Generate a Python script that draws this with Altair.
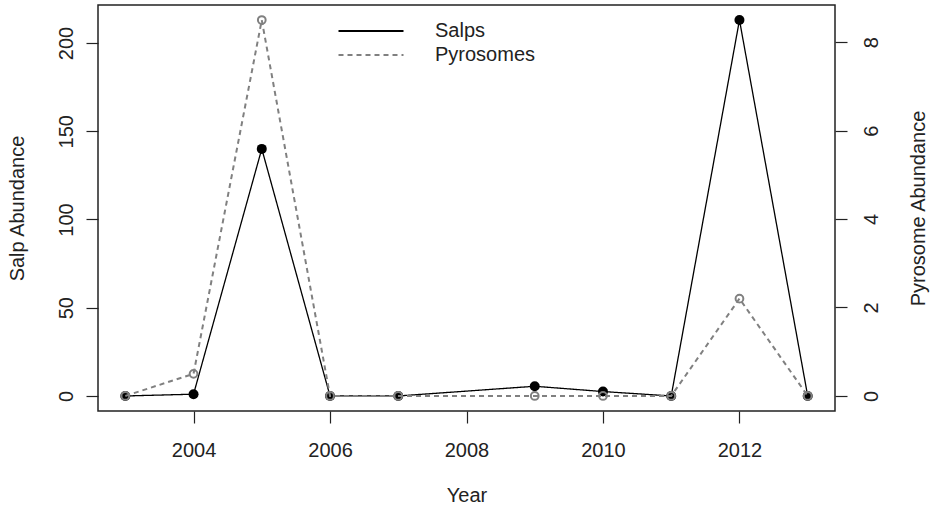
import altair as alt
import pandas as pd

# Annual abundance of salps and pyrosomes (no sampling in 2008)
years = [2003, 2004, 2005, 2006, 2007, 2009, 2010, 2011, 2012, 2013]
salps = [0, 1, 140, 0, 0, 5.5, 2.5, 0, 213, 0]
pyrosomes = [0, 0.5, 8.5, 0, 0, 0, 0, 0, 2.2, 0]

series_names = ["Salps", "Pyrosomes"]
year_ticks = [2004, 2006, 2008, 2010, 2012]
salp_ticks = [0, 50, 100, 150, 200]
pyro_ticks = [0, 2, 4, 6, 8]

df = pd.DataFrame(
    {"Year": years * 2,
     "series": ["Salps"] * len(years) + ["Pyrosomes"] * len(years),
     "value": salps + pyrosomes}
)

FONT = "Liberation Sans"
FS = 20
W, H = 737, 406

x_enc = alt.X(
    "Year:Q",
    scale=alt.Scale(domain=[2002.6, 2013.4], nice=False, zero=False),
    axis=alt.Axis(values=year_ticks, format="d", title="Year",
                  labelPadding=17, titleX=W / 2, titleY=74,
                  titleBaseline="top", titleAlign="center"),
)

color_scale = alt.Scale(domain=series_names, range=["black", "#808080"])
dash_scale = alt.Scale(domain=series_names, range=[[1, 0], [5, 4]])
legend = alt.Legend(
    title=None, orient="none", legendX=239, legendY=15,
    symbolType="stroke", symbolSize=4225, symbolStrokeWidth=2.2,
    clipHeight=22, rowPadding=2, labelOffset=30, padding=0,
    labelFontSize=FS, labelFont=FONT, labelColor="#222",
)

# Salps on the left axis
salp_y = alt.Y(
    "value:Q",
    scale=alt.Scale(domain=[-8.52, 221.52], nice=False, zero=False),
    axis=alt.Axis(values=salp_ticks, title="Salp Abundance", orient="left",
                  labelAngle=270, labelAlign="center", labelBaseline="bottom",
                  labelPadding=10, titleAngle=270, titleAlign="center",
                  titleBaseline="bottom", titleX=-71, titleY=H / 2),
)
salp_base = alt.Chart(df).transform_filter(alt.datum.series == "Salps")
salp_line = salp_base.mark_line(strokeWidth=1.3).encode(
    x=x_enc, y=salp_y,
    color=alt.Color("series:N", scale=color_scale, legend=legend),
    strokeDash=alt.StrokeDash("series:N", scale=dash_scale, legend=legend),
)
salp_pts = salp_base.mark_point(filled=True, size=100, opacity=1, color="black").encode(
    x=x_enc, y=salp_y
)
salp_layer = alt.layer(salp_line, salp_pts)

# Pyrosomes on the right axis
pyro_y = alt.Y(
    "value:Q",
    scale=alt.Scale(domain=[-0.3408, 8.8408], nice=False, zero=False),
    axis=alt.Axis(values=pyro_ticks, title="Pyrosome Abundance", orient="right",
                  labelAngle=270, labelAlign="center", labelBaseline="top",
                  labelPadding=14, titleAngle=270, titleAlign="center",
                  titleBaseline="top", titleX=73, titleY=H / 2),
)
pyro_base = alt.Chart(df).transform_filter(alt.datum.series == "Pyrosomes")
pyro_line = pyro_base.mark_line(strokeWidth=2).encode(
    x=x_enc, y=pyro_y,
    color=alt.Color("series:N", scale=color_scale, legend=legend),
    strokeDash=alt.StrokeDash("series:N", scale=dash_scale, legend=legend),
)
pyro_pts = pyro_base.mark_point(filled=False, size=60, strokeWidth=2, opacity=1,
                                color="#808080").encode(x=x_enc, y=pyro_y)
pyro_layer = alt.layer(pyro_line, pyro_pts)

chart = (
    alt.layer(salp_layer, pyro_layer)
    .resolve_scale(y="independent")
    .properties(
        width=W, height=H,
        autosize=alt.AutoSizeParams(type="none"),
        padding={"left": 98, "top": 5, "right": 96, "bottom": 99},
        background="white",
    )
    .configure_view(stroke="#222", strokeWidth=1.5)
    .configure_axis(
        domain=False, grid=False, tickSize=12, tickColor="#222", tickWidth=1.2,
        labelFont=FONT, labelFontSize=FS, labelColor="#222",
        titleFont=FONT, titleFontSize=FS, titleFontWeight="normal", titleColor="#222",
    )
)

chart.save("out.html", embed_options={"renderer": "svg", "actions": False})
